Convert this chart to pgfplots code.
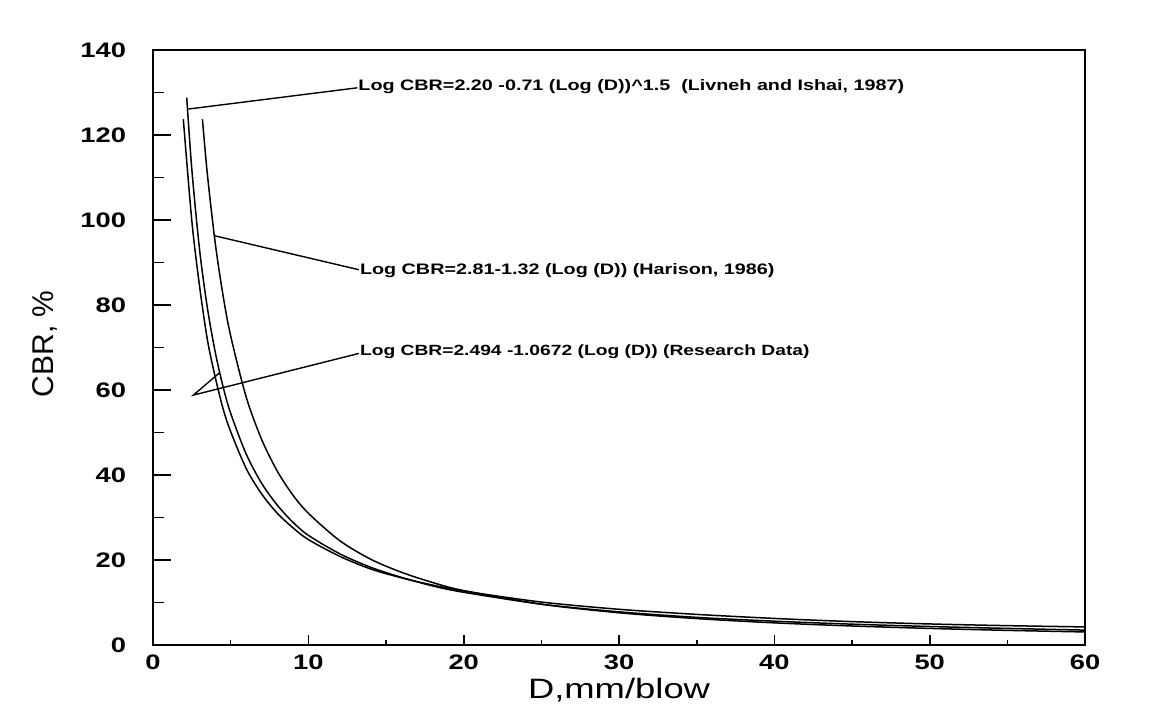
\documentclass[border=0pt]{standalone}
\usepackage{fontspec}
\setmainfont{Liberation Sans}
\newfontfamily\wide[FakeStretch=1.3]{Liberation Sans}
\usepackage{pgfplots}
\pgfplotsset{compat=1.18}
\pgfplotsset{
  base/.style={
    scale only axis, width=466pt, height=297.5pt,
    xmin=0, xmax=60, ymin=0, ymax=140,
    tick align=inside, tick pos=left,
    axis line style={line width=1pt},
    every tick/.style={black, line width=0.8pt},
    /pgf/number format/assume math mode=true,
    tick label style={font=\wide\bfseries\fontsize{10.5}{12}\selectfont},
    clip=false,
  }
}
\begin{document}
\begin{tikzpicture}
% x ticks (shorter)
\begin{axis}[base,
  xtick={0,10,...,60}, minor x tick num=1, ytick=\empty,
  major tick length=5pt, minor tick length=2.5pt,
  xticklabel style={yshift=-1.5pt},
  xlabel={D,mm/blow},
  xlabel style={font=\wide\fontsize{14}{16}\selectfont, at={(axis description cs:0.5,0)}, anchor=center, yshift=-22.5pt},
]
\path (rel axis cs:-0.1642,-0.1042) rectangle (rel axis cs:1.0858,1.084);
\end{axis}
% y ticks and data
\begin{axis}[base,
  xtick=\empty,
  ytick={0,20,...,140}, minor y tick num=1,
  major tick length=9pt, minor tick length=5.5pt,
  yticklabel style={xshift=-10pt},
  ylabel={CBR, \%},
  ylabel style={font=\fontsize{15}{17}\selectfont, at={(axis description cs:-0.116,0.506)}, anchor=center},
]
% Livneh and Ishai, 1987
\addplot[black, line width=0.75pt, smooth] coordinates {
(2.17,128.8) (2.5,111.8) (3,92.9) (3.5,79.3) (4,69.0) (4.5,60.9) (5,54.5) (6,44.9)
(7,38.0) (8,32.9) (9,28.9) (10,25.8) (12,21.5) (14,18.3) (16,15.9) (18,13.9) (20,12.4)
(25,9.6) (30,7.8) (35,6.5) (40,5.6) (45,4.9) (50,4.35) (55,3.9) (60,3.5)};
% Research data
\addplot[black, line width=0.75pt, smooth] coordinates {
(1.95,123.7) (2.5,99.7) (3,84.3) (3.5,71.8) (4,63.1) (4.5,55.7) (5,50.2) (6,41.5)
(7,35.5) (8,31.0) (9,27.6) (10,24.8) (12,20.9) (14,17.9) (16,15.8) (18,14.1) (20,12.7)
(25,10.1) (30,8.4) (35,7.2) (40,6.25) (45,5.5) (50,4.95) (55,4.55) (60,4.25)};
% Harison, 1986
\addplot[black, line width=0.75pt, smooth] coordinates {
(3.18,123.7) (3.5,110.7) (4,94.7) (4.5,82.4) (5,72.7) (6,58.3) (7,48.3) (8,40.9)
(9,35.3) (10,31.0) (12,24.6) (14,20.2) (16,17.1) (18,14.7) (20,12.8) (25,9.6)
(30,7.58) (35,6.21) (40,5.21) (45,4.47) (50,3.9) (55,3.44) (60,3.07)};
% leaders and annotations
\draw[black, line width=0.7pt] (axis cs:2.27,126.1) -- (axis cs:13.15,131.1);
\node[anchor=west, inner sep=0pt, font=\wide\bfseries\fontsize{7.6}{9}\selectfont] at (axis cs:13.2,131.3)
  {Log CBR=2.20 -0.71 (Log (D))\textasciicircum1.5\ \ (Livneh and Ishai, 1987)};
\draw[black, line width=0.7pt] (axis cs:3.95,96.3) -- (axis cs:13.25,88.3);
\node[anchor=west, inner sep=0pt, font=\wide\bfseries\fontsize{7.6}{9}\selectfont] at (axis cs:13.3,88.2)
  {Log CBR=2.81-1.32 (Log (D)) (Harison, 1986)};
\draw[black, line width=0.7pt] (axis cs:4.3,64.1) -- (axis cs:2.6,58.8) -- (axis cs:13.25,68.6);
\node[anchor=west, inner sep=0pt, font=\wide\bfseries\fontsize{7.4}{9}\selectfont] at (axis cs:13.3,68.9)
  {Log CBR=2.494 -1.0672 (Log (D)) (Research Data)};
\end{axis}
\end{tikzpicture}
\end{document}
